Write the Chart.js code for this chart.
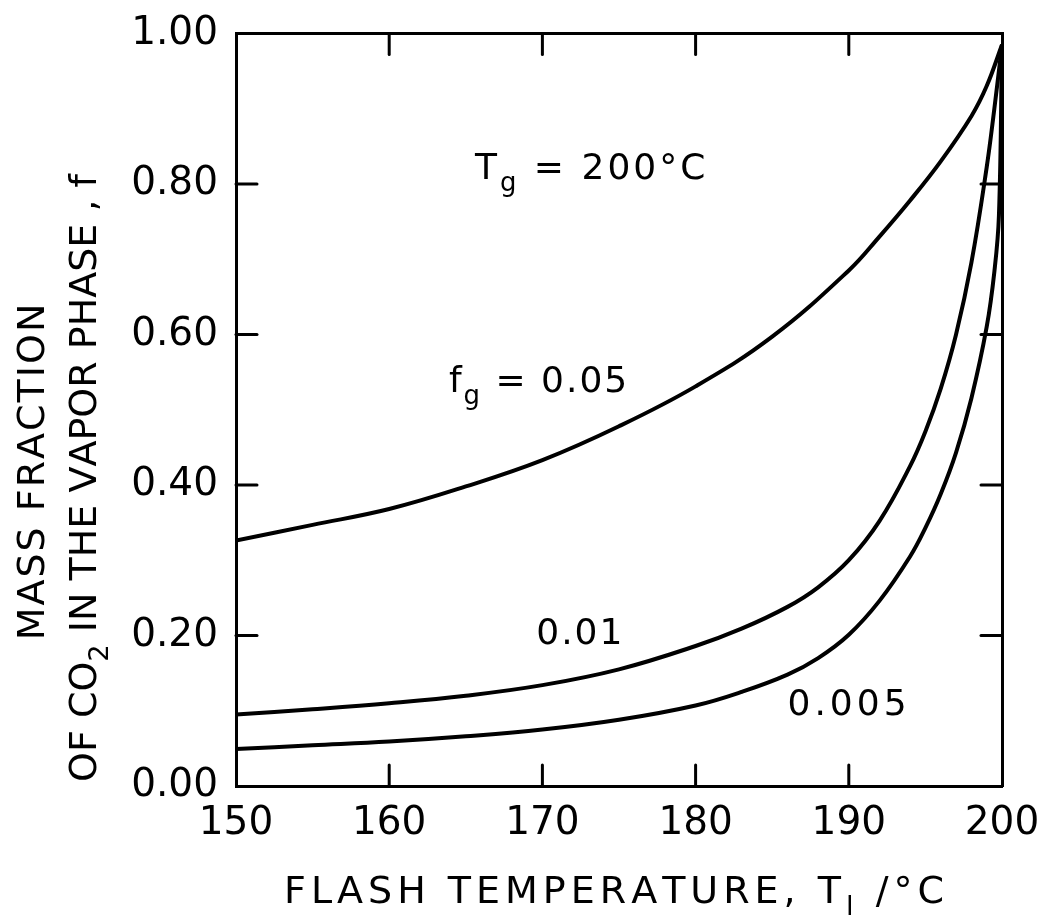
<!DOCTYPE html>
<html>
<head>
<meta charset="utf-8">
<script src="https://cdn.jsdelivr.net/npm/chart.js@4.4.1/dist/chart.umd.min.js"></script>
<style>
  body { margin: 0; background: #fff; }
  canvas { display: block; }
</style>
</head>
<body>
<canvas id="chart" width="1052" height="921"></canvas>
<script>
// curve f_g = 0.05
const tempsHigh = [150, 155, 160, 165, 170, 175, 180, 185, 190, 192, 194, 196, 198, 199, 200]
const fracHigh = [0.326, 0.347, 0.368, 0.398, 0.433, 0.478, 0.531, 0.597, 0.685, 0.730, 0.778, 0.830, 0.890, 0.930, 0.985]

// curve f_g = 0.01
const tempsMid = [150, 155, 160, 165, 170, 175, 180, 183, 186, 188, 190, 192, 194, 195, 196, 197, 198, 199, 199.5, 200]
const fracMid = [0.095, 0.102, 0.110, 0.120, 0.134, 0.155, 0.186, 0.209, 0.238, 0.264, 0.300, 0.352, 0.425, 0.471, 0.528, 0.600, 0.695, 0.822, 0.900, 0.985]

// curve f_g = 0.005
const tempsLow = [150, 155, 160, 165, 170, 175, 180, 183, 186, 188, 190, 192, 194, 195, 196, 197, 198, 199, 199.5, 199.8, 200]
const fracLow = [0.049, 0.054, 0.059, 0.066, 0.075, 0.088, 0.107, 0.125, 0.148, 0.170, 0.201, 0.246, 0.305, 0.343, 0.388, 0.443, 0.515, 0.610, 0.683, 0.758, 0.985]

const xTicks = [150, 160, 170, 180, 190, 200]
const yTicks = [0, 0.2, 0.4, 0.6, 0.8, 1.0]

const FONT = '"DejaVu Sans"'

const toPoints = (xs, ys) => xs.map((x, i) => ({ x: x, y: ys[i] }))

// text with subscripts, drawn letter by letter so the spacing can be opened up
function runWidth(ctx, runs, size, spacing) {
    let w = 0, n = 0
    runs.forEach(([txt, sub]) => {
        ctx.font = (sub ? size * 0.72 : size) + 'px ' + FONT
        for (const ch of txt) { w += ctx.measureText(ch).width; n++ }
    })
    return w + spacing * (n - 1)
}

function drawRuns(ctx, runs, x, y, size, spacing, align) {
    let cx = x
    if (align === 'center') cx = x - runWidth(ctx, runs, size, spacing) / 2
    ctx.textAlign = 'left'
    ctx.textBaseline = 'alphabetic'
    runs.forEach(([txt, sub]) => {
        ctx.font = (sub ? size * 0.72 : size) + 'px ' + FONT
        const dy = sub ? size * 0.32 : 0
        for (const ch of txt) {
            ctx.fillText(ch, cx, y + dy)
            cx += ctx.measureText(ch).width + spacing
        }
    })
}

const innerTicks = {
    id: 'innerTicks',
    afterDraw(chart) {
        const { ctx, chartArea: a, scales } = chart
        const len = 21
        ctx.save()
        ctx.strokeStyle = '#000'
        ctx.lineWidth = 3
        ctx.lineCap = 'round'
        const seg = (x1, y1, x2, y2) => { ctx.beginPath(); ctx.moveTo(x1, y1); ctx.lineTo(x2, y2); ctx.stroke() }
        xTicks.slice(1, -1).forEach(t => {
            const x = scales.x.getPixelForValue(t)
            seg(x, a.bottom, x, a.bottom - len)
            seg(x, a.top, x, a.top + len)
        })
        yTicks.slice(1, -1).forEach(t => {
            const y = scales.y.getPixelForValue(t)
            seg(a.left, y, a.left + len, y)
            seg(a.right, y, a.right - len, y)
        })
        ctx.restore()
    }
}

const labels = {
    id: 'labels',
    afterDraw(chart) {
        const { ctx, scales } = chart
        const sx = v => scales.x.getPixelForValue(v)
        const sy = v => scales.y.getPixelForValue(v)
        ctx.save()
        ctx.fillStyle = '#000'

        // curve annotations
        drawRuns(ctx, [['T', false], ['g', true], [' = 200°C', false]], sx(165.6), sy(0.806), 36, 3, 'left')
        drawRuns(ctx, [['f', false], ['g', true], [' = 0.05', false]], sx(163.9), sy(0.523), 36, 2, 'left')
        drawRuns(ctx, [['0.01', false]], sx(169.6), sy(0.189), 36, 2, 'left')
        drawRuns(ctx, [['0.005', false]], sx(186.0), sy(0.095), 36, 4, 'left')

        // x axis title
        drawRuns(ctx, [['FLASH TEMPERATURE, T', false], ['l', true], [' /°C', false]], 614, 903, 38, 5, 'center')

        // y axis title, two rotated lines
        ctx.save()
        ctx.translate(44, 472)
        ctx.rotate(-Math.PI / 2)
        drawRuns(ctx, [['MASS FRACTION', false]], 0, 0, 38, 2, 'center')
        ctx.restore()
        ctx.save()
        ctx.translate(96, 478)
        ctx.rotate(-Math.PI / 2)
        drawRuns(ctx, [['OF CO', false], ['2', true], [' IN THE VAPOR PHASE , f', false]], 0, 0, 38, 0, 'center')
        ctx.restore()

        ctx.restore()
    }
}

const lineStyle = {
    borderColor: '#000',
    borderWidth: 4,
    pointRadius: 0,
    fill: false,
    tension: 0.4
}

new Chart(document.getElementById('chart'), {
    type: 'line',
    data: {
        datasets: [
            { label: 'fg = 0.05', data: toPoints(tempsHigh, fracHigh), ...lineStyle },
            { label: 'fg = 0.01', data: toPoints(tempsMid, fracMid), ...lineStyle },
            { label: 'fg = 0.005', data: toPoints(tempsLow, fracLow), ...lineStyle }
        ]
    },
    options: {
        responsive: false,
        animation: false,
        layout: { padding: { top: -4 }, autoPadding: false },
        plugins: {
            legend: { display: false },
            tooltip: { enabled: false }
        },
        scales: {
            x: {
                type: 'linear',
                position: 'bottom',
                min: 150,
                max: 200,
                afterFit: s => { s.height = 135 },
                afterBuildTicks: s => { s.ticks = xTicks.map(v => ({ value: v })) },
                border: { display: true, color: '#000', width: 3 },
                grid: { display: false },
                ticks: { color: '#000', padding: 6, font: { family: 'DejaVu Sans', size: 39 } }
            },
            x2: {
                type: 'linear',
                position: 'top',
                min: 150,
                max: 200,
                afterFit: s => { s.height = 20 },
                border: { display: true, color: '#000', width: 3 },
                grid: { display: false },
                ticks: { display: false }
            },
            y: {
                type: 'linear',
                position: 'left',
                min: 0,
                max: 1,
                afterFit: s => { s.width = 236 },
                afterBuildTicks: s => { s.ticks = yTicks.map(v => ({ value: v })) },
                border: { display: true, color: '#000', width: 3 },
                grid: { display: false },
                ticks: {
                    color: '#000',
                    padding: 10,
                    font: { family: 'DejaVu Sans', size: 39 },
                    callback: v => v.toFixed(2)
                }
            },
            y2: {
                type: 'linear',
                position: 'right',
                min: 0,
                max: 1,
                afterFit: s => { s.width = 50 },
                border: { display: true, color: '#000', width: 3 },
                grid: { display: false },
                ticks: { display: false }
            }
        }
    },
    plugins: [innerTicks, labels]
})
</script>
</body>
</html>
